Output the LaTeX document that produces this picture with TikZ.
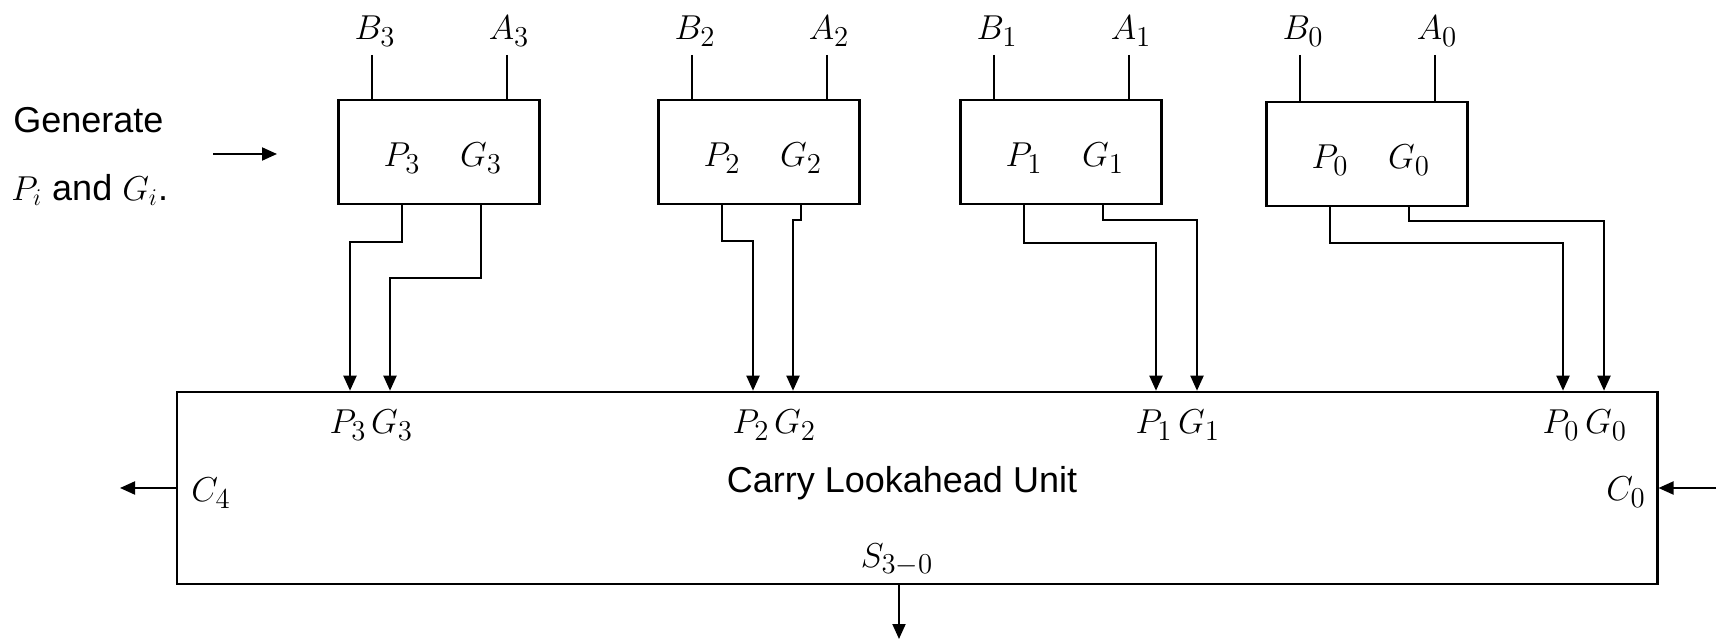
\documentclass[tikz,border=0pt]{standalone}
\usepackage[no-math]{fontspec}
\setmainfont{Liberation Sans}
\usetikzlibrary{arrows.meta}

\tikzset{
  pgbox/.style={draw, line width=1.1pt, minimum width=100.5pt, minimum height=52pt, inner sep=0pt},
  unitbox/.style={draw, line width=1.1pt, minimum width=740.4pt, minimum height=96.2pt, inner sep=0pt},
  mathlbl/.style={inner sep=1pt, font=\fontsize{19}{22}\selectfont},
  txt/.style={inner sep=0pt, font=\fontsize{18}{22}\selectfont},
  wire/.style={line width=1pt},
  sig/.style={line width=1pt, ->}
}

\begin{document}
\begin{tikzpicture}[
  x=0.5pt, y=-0.5pt,
  >={Triangle[length=7.5pt, width=6.5pt]}
]
  \useasboundingbox (0,0) rectangle (1723,640);

  % Side note
  \node[txt, anchor=west] (gen1) at (13,120) {Generate};
  \node[txt, anchor=west] (gen2) at (11,190) {$P_i$ and $G_i$.};
  \coordinate (genfrom) at (213,154);
  \coordinate (gento) at (277,154);
  \draw[sig] (genfrom) -- (gento);

  % P/G generator boxes
  \foreach \i/\x/\y in {3/439/152, 2/759/152, 1/1061/152, 0/1367/154} {
    \node[pgbox] (pg\i) at (\x,\y) {};
    \node[mathlbl] (p\i) at (\x-37,\y+6) {$P_{\i}$};
    \node[mathlbl] (g\i) at (\x+42,\y+6) {$G_{\i}$};
    \node[mathlbl] (b\i) at (\x-64,31) {$B_{\i}$};
    \node[mathlbl] (a\i) at (\x+70,31) {$A_{\i}$};
    \coordinate (bin\i) at (\x-67,55);
    \coordinate (ain\i) at (\x+68,55);
    \draw[wire] (bin\i) -- (bin\i |- pg\i.north);
    \draw[wire] (ain\i) -- (ain\i |- pg\i.north);
  }

  % Carry lookahead unit
  \node[unitbox] (clu) at (917,488) {};
  \node[txt] (clutext) at (902,483) {Carry Lookahead Unit};
  \foreach \i/\px/\gx in {3/348/392, 2/751/795, 1/1154/1199, 0/1561/1606} {
    \node[mathlbl] (mp\i) at (\px,425) {$P_{\i}$};
    \node[mathlbl] (mg\i) at (\gx,425) {$G_{\i}$};
  }

  % P and G wires
  \foreach \i/\pl/\gl in {3/242/278, 2/241/220, 1/243/220, 0/243/221} {
    \draw[sig] (p\i |- pg\i.south) -- (p\i |- 0,\pl) -| ([xshift=1pt]mp\i |- clu.north);
    \draw[sig] (g\i |- pg\i.south) -- (g\i |- 0,\gl) -| ([xshift=-1pt]mg\i |- clu.north);
  }

  % Carries and sum
  \node[mathlbl] (c4) at (211,493) {$C_4$};
  \node[mathlbl] (c0) at (1626,492) {$C_0$};
  \node[mathlbl] (s30) at (897,560) {$S_{3-0}$};
  \coordinate (c4out) at (120,488);
  \coordinate (c0in) at (1716,488);
  \coordinate (sout) at (899,639);
  \draw[sig] (clu.west) -- (c4out);
  \draw[sig] (c0in) -- (clu.east);
  \draw[sig] (sout |- clu.south) -- (sout);

\end{tikzpicture}
\end{document}
